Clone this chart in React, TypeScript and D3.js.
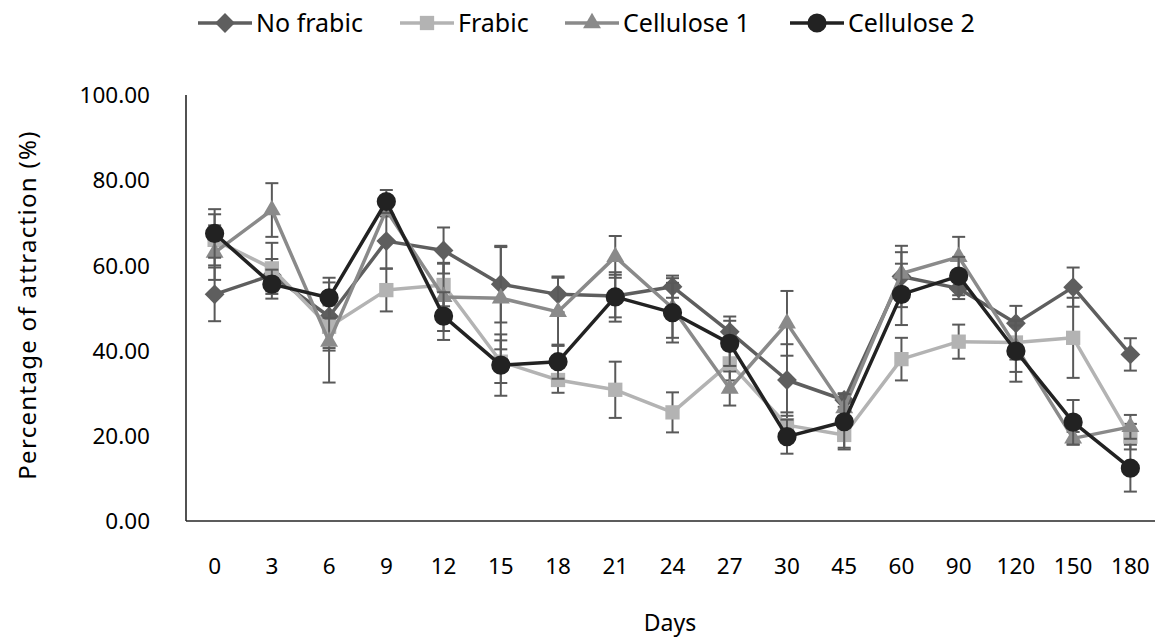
import React, { useEffect, useRef } from 'react'
import * as d3 from 'd3'

const days = ["0", "3", "6", "9", "12", "15", "18", "21", "24", "27", "30", "45", "60", "90", "120", "150", "180"]
const yTicks = [0, 20, 40, 60, 80, 100]

const noFrabic = [53.2, 57.7, 48.0, 65.7, 63.5, 55.6, 53.2, 52.8, 55.0, 44.4, 33.1, 28.4, 57.4, 54.6, 46.4, 54.9, 39.1]
const noFrabicErr = [6.3, 3.8, 8.0, 6.4, 5.4, 9.0, 4.2, 5.0, 2.6, 3.6, 8.4, 1.6, 7.2, 2.5, 4.1, 4.6, 3.8]

const frabic = [66.0, 59.3, 45.6, 54.2, 55.4, 37.4, 33.1, 30.8, 25.5, 37.0, 22.5, 20.2, 38.0, 42.1, 41.9, 43.0, 19.8]
const frabicErr = [6.0, 6.0, 5.0, 5.0, 5.0, 5.0, 3.0, 6.6, 4.7, 4.0, 3.0, 3.0, 5.0, 4.0, 4.0, 9.4, 3.0]

const cellulose1 = [63.0, 73.0, 42.1, 73.0, 52.6, 52.3, 49.1, 62.0, 50.0, 31.1, 46.4, 26.5, 58.1, 62.0, 41.0, 19.4, 22.1]
const cellulose1Err = [6.4, 6.3, 9.6, 1.5, 8.0, 12.0, 8.0, 4.9, 7.0, 4.0, 7.6, 2.0, 5.0, 4.7, 6.0, 1.5, 2.8]

const cellulose2 = [67.5, 55.6, 52.4, 75.0, 48.1, 36.6, 37.4, 52.6, 48.9, 41.7, 19.8, 23.3, 53.2, 57.5, 39.9, 23.2, 12.4]
const cellulose2Err = [5.7, 3.4, 4.7, 2.7, 5.6, 7.2, 4.0, 5.8, 7.0, 5.3, 4.0, 6.5, 7.2, 4.5, 7.2, 5.2, 5.5]

const series = [
    { name: "No frabic", values: noFrabic, errors: noFrabicErr, color: "#5e5e5e", symbol: d3.symbolDiamond2, size: 250 },
    { name: "Frabic", values: frabic, errors: frabicErr, color: "#b3b3b3", symbol: d3.symbolSquare2, size: 260 },
    { name: "Cellulose 1", values: cellulose1, errors: cellulose1Err, color: "#8a8a8a", symbol: d3.symbolTriangle2, size: 230 },
    { name: "Cellulose 2", values: cellulose2, errors: cellulose2Err, color: "#222222", symbol: d3.symbolCircle, size: 290 },
]

const width = 1155
const height = 639
const font = "'Noto Sans', sans-serif"

export default function App() {
    const svgRef = useRef<SVGSVGElement>(null)

    useEffect(() => {
        if (!svgRef.current) return
        const svg = d3.select(svgRef.current)
        svg.selectAll("*").remove()

        const margin = { top: 95, right: 0, bottom: 118, left: 186 }
        const innerWidth = 973
        const innerHeight = height - margin.top - margin.bottom

        const x = d3.scaleBand().domain(days).range([0, innerWidth])
        const y = d3.scaleLinear().domain([0, 100]).range([innerHeight, 0])
        const cx = (d: string) => (x(d) || 0) + x.bandwidth() / 2

        svg.append("rect").attr("width", width).attr("height", height).attr("fill", "#fff")

        const g = svg.append("g").attr("transform", `translate(${margin.left},${margin.top})`)

        // Y axis labels
        g.append("g")
            .selectAll("text")
            .data(yTicks)
            .enter().append("text")
            .attr("x", -36)
            .attr("y", d => y(d))
            .attr("dy", "0.36em")
            .attr("text-anchor", "end")
            .attr("font-family", font)
            .attr("font-size", 22.5)
            .attr("fill", "#000")
            .text(d => d.toFixed(2))

        // X axis labels
        g.append("g")
            .selectAll("text")
            .data(days)
            .enter().append("text")
            .attr("x", d => cx(d))
            .attr("y", innerHeight + 53)
            .attr("text-anchor", "middle")
            .attr("font-family", font)
            .attr("font-size", 22.5)
            .attr("fill", "#000")
            .text(d => d)

        // axis lines
        g.append("line")
            .attr("x1", 0).attr("x2", 0).attr("y1", 0).attr("y2", innerHeight)
            .attr("stroke", "#262626").attr("stroke-width", 1.6)
        g.append("line")
            .attr("x1", 0).attr("x2", width - margin.left).attr("y1", innerHeight).attr("y2", innerHeight)
            .attr("stroke", "#262626").attr("stroke-width", 1.6)

        // axis titles
        svg.append("text")
            .attr("transform", `translate(26,${margin.top + innerHeight / 2 - 3}) rotate(-90)`)
            .attr("text-anchor", "middle")
            .attr("dominant-baseline", "central")
            .attr("font-family", font)
            .attr("font-size", 24)
            .attr("letter-spacing", 1.3)
            .attr("fill", "#000")
            .text("Percentage of attraction (%)")

        svg.append("text")
            .attr("x", 670)
            .attr("y", 631)
            .attr("text-anchor", "middle")
            .attr("font-family", font)
            .attr("font-size", 23)
            .attr("fill", "#000")
            .text("Days")

        // Series
        series.forEach(s => {
            const pts = days.map((d, i) => ({ day: d, v: s.values[i], e: s.errors[i] }))

            const eb = g.append("g")
            pts.forEach(p => {
                const px = cx(p.day)
                eb.append("line")
                    .attr("x1", px).attr("x2", px)
                    .attr("y1", y(p.v + p.e)).attr("y2", y(p.v - p.e))
                    .attr("stroke", "#595959").attr("stroke-width", 2)
                const caps = [p.v + p.e, p.v - p.e]
                caps.forEach(c => {
                    eb.append("line")
                        .attr("x1", px - 6.5).attr("x2", px + 6.5)
                        .attr("y1", y(c)).attr("y2", y(c))
                        .attr("stroke", "#595959").attr("stroke-width", 2)
                })
            })

            const line = d3.line<typeof pts[0]>()
                .x(d => cx(d.day))
                .y(d => y(d.v))

            g.append("path")
                .datum(pts)
                .attr("fill", "none")
                .attr("stroke", s.color)
                .attr("stroke-width", 3.5)
                .attr("stroke-linejoin", "round")
                .attr("d", line)

            g.selectAll(null)
                .data(pts)
                .enter().append("path")
                .attr("transform", d => `translate(${cx(d.day)},${y(d.v)})`)
                .attr("d", d3.symbol().type(s.symbol).size(s.size)())
                .attr("fill", s.color)
        })

        // Legend
        const legendX = [198, 400, 565, 790]
        const legend = svg.append("g")
        series.forEach((s, i) => {
            const lx = legendX[i]
            const lg = legend.append("g").attr("transform", `translate(${lx},23)`)
            lg.append("line")
                .attr("x1", 0).attr("x2", 54).attr("y1", 0).attr("y2", 0)
                .attr("stroke", s.color).attr("stroke-width", 3.5)
            lg.append("path")
                .attr("transform", "translate(27,0)")
                .attr("d", d3.symbol().type(s.symbol).size(s.size)())
                .attr("fill", s.color)
            lg.append("text")
                .attr("x", 58)
                .attr("dy", "0.36em")
                .attr("font-family", font)
                .attr("font-size", 25)
                .attr("fill", "#000")
                .text(s.name)
        })
    }, [])

    return (
        <svg ref={svgRef} width={width} height={height} style={{ position: "absolute", left: 0, top: 0, display: "block" }} />
    )
}
